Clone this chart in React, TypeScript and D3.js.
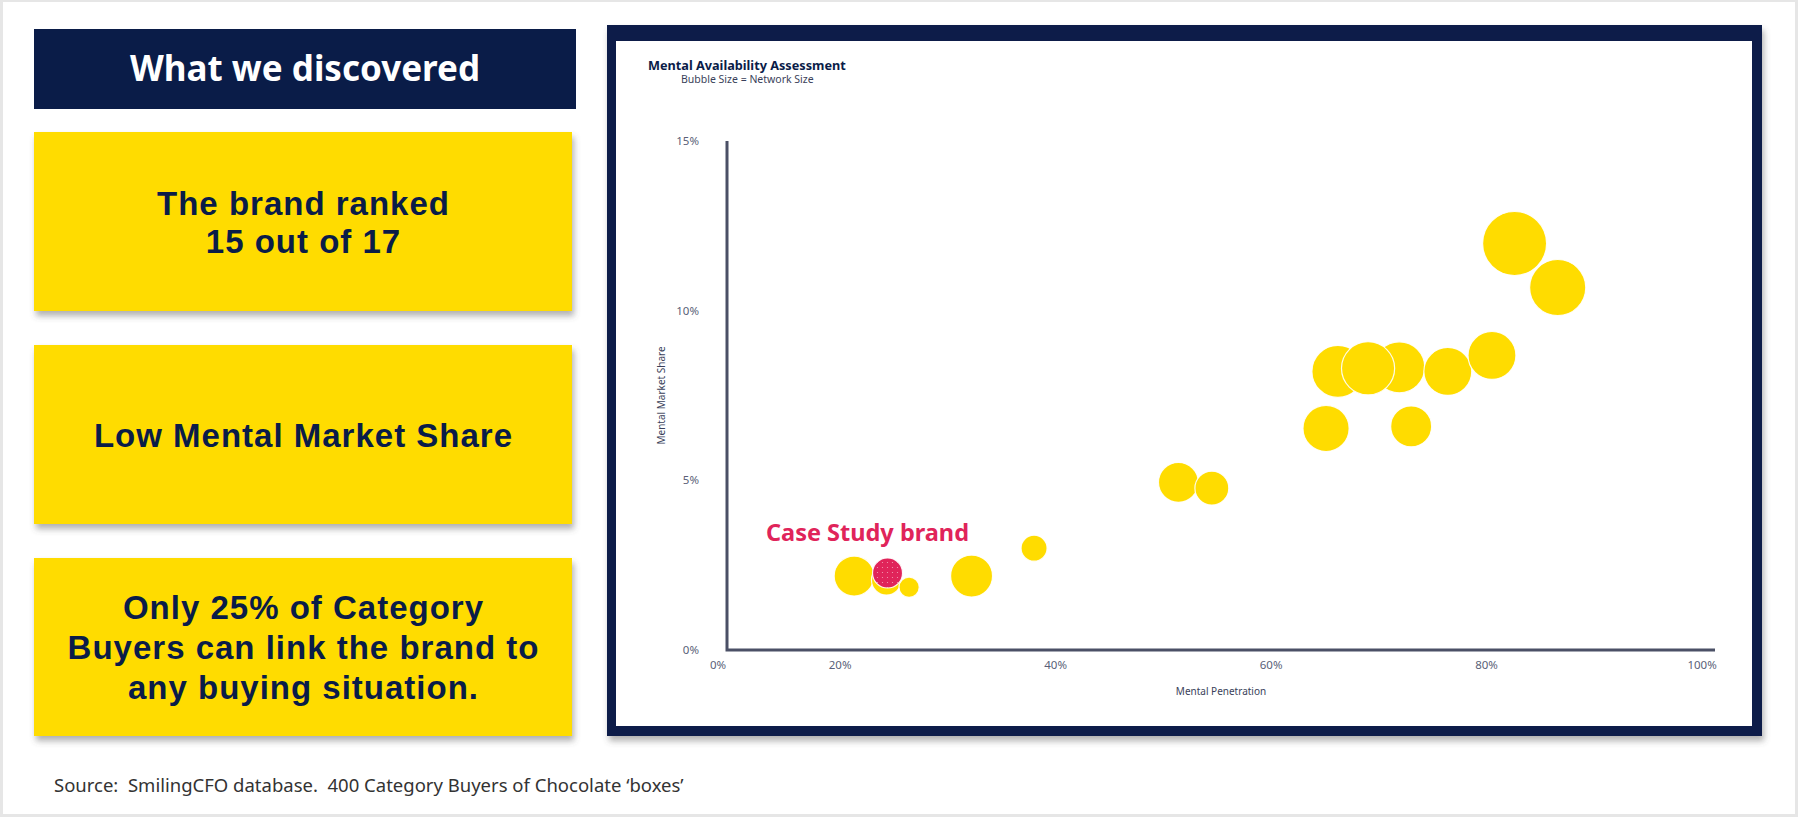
import React from 'react';
import * as d3 from 'd3';

// ---- Data ----
const brandNames = [
  'Brand 1', 'Brand 2', 'Brand 3', 'Case Study brand', 'Brand 5', 'Brand 6', 'Brand 7', 'Brand 8',
  'Brand 9', 'Brand 10', 'Brand 11', 'Brand 12', 'Brand 13', 'Brand 14', 'Brand 15', 'Brand 16', 'Brand 17',
];
const mentalPenetration = [21.3, 24.3, 26.4, 24.4, 32.2, 38.0, 51.4, 54.5, 65.1, 66.2, 71.9, 69.0, 73.0, 76.4, 80.5, 82.6, 86.6];
const mentalMarketShare = [2.18, 2.06, 1.85, 2.27, 2.18, 3.0, 4.94, 4.77, 6.53, 8.21, 8.33, 8.3, 6.59, 8.21, 8.68, 11.98, 10.68];
const networkSize = [39, 22, 10, 22, 43, 16.5, 39, 28, 52, 66, 63.5, 69, 41, 56, 56, 100, 77];
const caseStudyBrand = 'Case Study brand';

const xTickValues = [20, 40, 60, 80, 100];
const yTickValues = [0, 5, 10, 15];

const headline = 'What we discovered';
const findings = [
  ['The brand ranked', '15 out of 17'],
  ['Low Mental Market Share'],
  ['Only 25% of Category', 'Buyers can link the brand to', 'any buying situation.'],
];
const sourceNote = 'Source:  SmilingCFO database.  400 Category Buyers of Chocolate \u2018boxes\u2019';

const NAVY = '#0A1C48';
const YELLOW = '#FFDC00';
const RED = '#E0245A';
const FONT = "'Noto Sans', 'Open Sans', sans-serif";
const BOX_FONT = "'Liberation Sans', Arial, sans-serif";

export default function App() {
  const W = 1798;
  const H = 818;

  const x = d3.scaleLinear().domain([9.5, 101.2]).range([727, 1715]);
  const y = d3.scaleLinear().domain([0, 15]).range([650, 141]);
  const r = d3.scaleSqrt().domain([0, 100]).range([0, 32]);
  const fmt = (v: number) => `${v}%`;

  const boxes = [
    { y0: 132, y1: 311 },
    { y0: 345, y1: 524 },
    { y0: 558, y1: 736 },
  ];
  const lineH = [38, 40, 40];

  const points = brandNames.map((name, i) => ({
    name,
    px: mentalPenetration[i],
    py: mentalMarketShare[i],
    size: networkSize[i],
  }));
  const caseIdx = brandNames.indexOf(caseStudyBrand);

  const [x0, x1] = x.range();
  const [yb, yt] = y.range();

  return (
    <div style={{ position: 'absolute', left: 0, top: 0 }}>
      <svg width={W} height={H} style={{ display: 'block', fontFamily: FONT }}>
        <defs>
          <filter id="shadow" x="-5%" y="-5%" width="112%" height="120%">
            <feDropShadow dx="2" dy="5" stdDeviation="3" floodColor="#555" floodOpacity="0.45" />
          </filter>
          <pattern id="dots" width="5" height="5" patternUnits="userSpaceOnUse">
            <rect width="5" height="5" fill={RED} />
            <circle cx="2.5" cy="2.5" r="0.6" fill="#f3a0b4" />
          </pattern>
        </defs>
        <rect x={0} y={0} width={W} height={H} fill="#fff" />
        <rect x={1.5} y={0.5} width={W - 3} height={H - 3} fill="none" stroke="#e6e6e6" strokeWidth={3} />

        {/* Headline */}
        <rect x={34} y={29} width={542} height={80} fill={NAVY} />
        <text x={305} y={81} textAnchor="middle" fill="#fff" fontSize={35} fontWeight={700}>
          {headline}
        </text>

        {/* Finding boxes */}
        {findings.map((lines, i) => {
          const b = boxes[i];
          const cy = (b.y0 + b.y1) / 2;
          const n = lines.length;
          const first = cy - ((n - 1) * lineH[i]) / 2 + 12;
          return (
            <g key={i}>
              <rect x={34} y={b.y0} width={538} height={b.y1 - b.y0} fill={YELLOW} filter="url(#shadow)" />
              {lines.map((t, j) => (
                <text key={j} x={303.5} y={first + j * lineH[i]} textAnchor="middle" fill={NAVY}
                  fontFamily={BOX_FONT} fontSize={33} fontWeight={700} letterSpacing={1}>
                  {t}
                </text>
              ))}
            </g>
          );
        })}

        <text x={54} y={792} fill="#333" fontSize={18.5} style={{ whiteSpace: 'pre' }}>{sourceNote}</text>

        {/* Chart frame */}
        <rect x={607} y={25} width={1155} height={711} fill={NAVY} filter="url(#shadow)" />
        <rect x={616} y={41} width={1136} height={685} fill="#fff" />

        <text x={648} y={70} fill={NAVY} fontSize={12.7} fontWeight={700}>Mental Availability Assessment</text>
        <text x={681} y={83} fill="#3a3f5a" fontSize={10.5}>Bubble Size = Network Size</text>

        {/* Axis labels */}
        {yTickValues.map((v) => (
          <text key={v} x={699} y={y(v) + 4} textAnchor="end" fill="#5a5f78" fontSize={11.5}>
            {fmt(v)}
          </text>
        ))}
        <text x={718} y={669} textAnchor="middle" fill="#5a5f78" fontSize={11.5}>0%</text>
        {xTickValues.map((v) => (
          <text key={v} x={x(v)} y={669} textAnchor="middle" fill="#5a5f78" fontSize={11.5}>
            {fmt(v)}
          </text>
        ))}
        <text transform={`translate(665, ${(yb + yt) / 2}) rotate(-90)`} textAnchor="middle" fill="#3a3f5a" fontSize={10}>
          Mental Market Share
        </text>
        <text x={(x0 + x1) / 2} y={695} textAnchor="middle" fill="#3a3f5a" fontSize={10}>
          Mental Penetration
        </text>

        {/* Bubbles */}
        {points.map((p, i) => (
          <circle key={p.name} cx={x(p.px)} cy={y(p.py)} r={r(p.size)}
            fill={i === caseIdx ? 'url(#dots)' : YELLOW}
            stroke="#ffffff" strokeOpacity={0.9} strokeWidth={1.2} />
        ))}

        {/* Axes */}
        <path d={`M${x0},${yt} L${x0},${yb} L${x1},${yb}`} fill="none" stroke="#4b5066" strokeWidth={3} />

        <text x={766} y={541} fill={RED} fontSize={23.5} fontWeight={700}>{caseStudyBrand}</text>
      </svg>
    </div>
  );
}
